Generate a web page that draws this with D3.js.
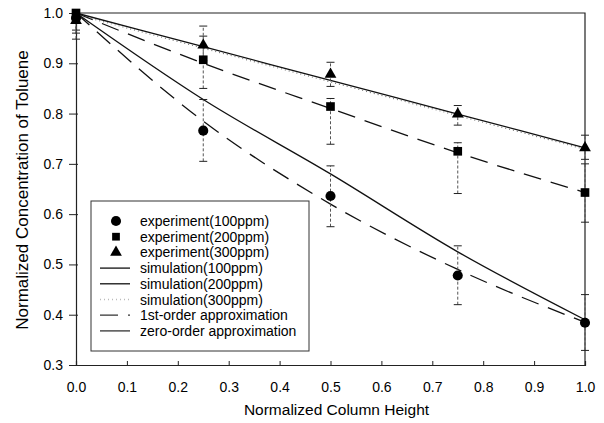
<!DOCTYPE html>
<meta charset="utf-8">
<script src="https://d3js.org/d3.v7.min.js"></script>
<style>
  body { margin: 0; background: #fff; }
  text { font-family: Arial, "Liberation Sans", sans-serif; fill: #000; }
</style>
<div id="vis"></div>
<script>

// data
var heights = [0, 0.25, 0.5, 0.75, 1.0];

var exp100 = [0.99, 0.766, 0.636, 0.478, 0.384];
var err100Lo = [0.948, 0.705, 0.575, 0.42, 0.329];
var err100Hi = [1.0, 0.828, 0.696, 0.537, 0.44];

var exp200 = [1.0, 0.907, 0.814, 0.725, 0.643];
var err200Lo = [0.966, 0.85, 0.739, 0.641, 0.584];
var err200Hi = [1.0, 0.954, 0.83, 0.742, 0.70];

var exp300 = [0.985, 0.936, 0.878, 0.799, 0.732];
var err300Lo = [0.96, 0.905, 0.854, 0.777, 0.709];
var err300Hi = [1.0, 0.974, 0.902, 0.816, 0.757];

var sim100 = [1.0, 0.828, 0.68, 0.525, 0.39];
var sim200 = [1.0, 0.933, 0.866, 0.799, 0.732];
var sim300 = [0.997, 0.930, 0.863, 0.796, 0.729];
var first100 = [1.0, 0.785, 0.62, 0.49, 0.385];
var first200 = [1.0, 0.9, 0.81, 0.722, 0.643];

var xTicks = [0, 0.1, 0.2, 0.3, 0.4, 0.5, 0.6, 0.7, 0.8, 0.9, 1.0];
var yTicks = [0.3, 0.4, 0.5, 0.6, 0.7, 0.8, 0.9, 1.0];

var legendLabels = ["experiment(100ppm)", "experiment(200ppm)", "experiment(300ppm)",
  "simulation(100ppm)", "simulation(200ppm)", "simulation(300ppm)",
  "1st-order approximation", "zero-order approximation"];

var margin = {top: 13, right: 19, bottom: 58, left: 76},
    width = 604 - margin.left - margin.right,
    height = 423 - margin.top - margin.bottom;

var svg = d3.select("#vis")
  .append("svg")
    .attr("width", 604)
    .attr("height", 423)
  .append("g")
    .attr("transform", "translate(" + margin.left + "," + margin.top + ")");

var x = d3.scaleLinear().domain([0, 1]).range([0, width]);
var y = d3.scaleLinear().domain([0.3, 1.0]).range([height, 0]);

// frame (top and right)
svg.append("path")
  .attr("d", "M0,0H" + width + "V" + height)
  .attr("fill", "none")
  .attr("stroke", "#222")
  .attr("stroke-width", 1.2);

// axes
var xAxis = svg.append("g")
  .attr("transform", "translate(0," + height + ")")
  .call(d3.axisBottom(x).tickValues(xTicks).tickFormat(d3.format(".1f")).tickSize(-4).tickPadding(17));
var yAxis = svg.append("g")
  .call(d3.axisLeft(y).tickValues(yTicks).tickFormat(d3.format(".1f")).tickSize(7).tickPadding(6));

[xAxis, yAxis].forEach(function(a) {
  a.select(".domain").attr("stroke", "#222").attr("stroke-width", 1.2);
  a.selectAll(".tick line").attr("stroke", "#222");
  a.selectAll(".tick text").style("font-size", "14px");
});
yAxis.selectAll(".tick").append("line").attr("x2", 2).attr("stroke", "#222");

// axis titles
svg.append("text")
  .attr("x", width / 2 + 6)
  .attr("y", height + 50)
  .attr("text-anchor", "middle")
  .style("font-size", "15.5px")
  .text("Normalized Column Height");

svg.append("text")
  .attr("transform", "rotate(-90)")
  .attr("x", -(190 - margin.top))
  .attr("y", -48)
  .attr("text-anchor", "middle")
  .style("font-size", "17px")
  .text("Normalized Concentration of Toluene");

// curves
var line = d3.line()
  .x(function(d, i) { return x(heights[i]); })
  .y(function(d) { return y(d); })
  .curve(d3.curveMonotoneX);

function drawCurve(vals, dash, color, w) {
  svg.append("path")
    .datum(vals)
    .attr("d", line)
    .attr("fill", "none")
    .attr("stroke", color)
    .attr("stroke-width", w)
    .attr("stroke-dasharray", dash);
}
drawCurve(sim100, null, "#111", 1.3);
drawCurve(sim200, null, "#111", 1.3);
drawCurve(sim300, "1,3", "#777", 1.2);
drawCurve(first100, "18,10", "#111", 1.3);
drawCurve(first200, "18,10", "#111", 1.3);

// error bars
function drawErr(lo, hi) {
  var g = svg.append("g");
  heights.forEach(function(h, i) {
    g.append("line")
      .attr("x1", x(h)).attr("x2", x(h))
      .attr("y1", y(lo[i])).attr("y2", y(hi[i]))
      .attr("stroke", "#555")
      .attr("stroke-width", 1)
      .attr("stroke-dasharray", "3,2");
    [lo[i], hi[i]].forEach(function(v) {
      g.append("line")
        .attr("x1", x(h) - 4).attr("x2", x(h) + 4)
        .attr("y1", y(v)).attr("y2", y(v))
        .attr("stroke", "#222");
    });
  });
}
drawErr(err100Lo, err100Hi);
drawErr(err200Lo, err200Hi);
drawErr(err300Lo, err300Hi);

// markers
function drawPts(vals, type, size) {
  svg.append("g")
    .selectAll("path")
    .data(vals)
    .enter()
    .append("path")
      .attr("transform", function(d, i) { return "translate(" + x(heights[i]) + "," + y(d) + ")"; })
      .attr("d", d3.symbol().type(type).size(size))
      .attr("fill", "#000");
}
drawPts(exp100, d3.symbolCircle, 80);
drawPts(exp200, d3.symbolSquare, 75);
drawPts(exp300, d3.symbolTriangle, 60);

// legend
var lg = svg.append("g").attr("transform", "translate(" + (91 - margin.left) + "," + (201 - margin.top) + ")");
lg.append("rect")
  .attr("width", 218).attr("height", 150)
  .attr("fill", "#fff")
  .attr("stroke", "#333")
  .attr("stroke-width", 1);

var rowY = function(i) { return 20 + i * 15.7; };
lg.selectAll("text.lab")
  .data(legendLabels)
  .enter()
  .append("text")
    .attr("class", "lab")
    .attr("x", 49)
    .attr("y", function(d, i) { return rowY(i) + 5; })
    .style("font-size", "14px")
    .text(function(d) { return d; });

var legSym = [d3.symbolCircle, d3.symbolSquare, d3.symbolTriangle];
var legSize = [80, 60, 60];
legSym.forEach(function(t, i) {
  lg.append("path")
    .attr("transform", "translate(25," + rowY(i) + ")")
    .attr("d", d3.symbol().type(t).size(legSize[i]))
    .attr("fill", "#000");
});

var legLines = [
  {dash: null, color: "#111"},
  {dash: null, color: "#111"},
  {dash: "1,3", color: "#bbb"},
  {dash: "18,10", color: "#333"},
  {dash: null, color: "#333"}
];
legLines.forEach(function(l, j) {
  lg.append("line")
    .attr("x1", 9).attr("x2", 39)
    .attr("y1", rowY(j + 3)).attr("y2", rowY(j + 3))
    .attr("stroke", l.color)
    .attr("stroke-width", 1.3)
    .attr("stroke-dasharray", l.dash);
});

</script>
